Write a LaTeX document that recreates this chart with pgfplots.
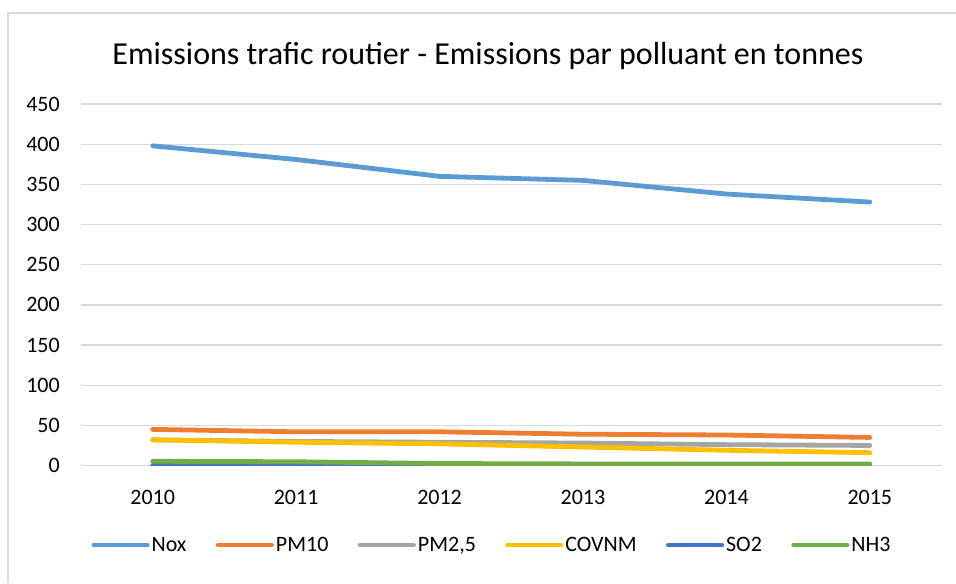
\documentclass[border=0pt]{standalone}
\usepackage{pgfplots}
\pgfplotsset{compat=1.18}
\usepackage{fontspec}
\setmainfont{Carlito}
\definecolor{cNox}{HTML}{5B9BD5}
\definecolor{cPMten}{HTML}{ED7D31}
\definecolor{cPMtwo}{HTML}{A5A5A5}
\definecolor{cCOV}{HTML}{FFC000}
\definecolor{cSO}{HTML}{4472C4}
\definecolor{cNH}{HTML}{70AD47}
\definecolor{gridc}{HTML}{D9D9D9}
\begin{document}
\begin{tikzpicture}
\path[use as bounding box] (0,0) rectangle (717pt,437.25pt);
\draw[gridc, line width=1.1pt] (6pt,0) -- (6pt,427.5pt) -- (717pt,427.5pt);
\node[font=\fontsize{24}{28}\selectfont, anchor=center] at (366pt,395pt) {Emissions trafic routier - Emissions par polluant en tonnes};
\begin{axis}[
  at={(60.75pt,88.1pt)}, anchor=south west,
  scale only axis, width=645.4pt, height=271.1pt,
  xmin=-0.5, xmax=5.5, ymin=0, ymax=450,
  xtick={0,1,2,3,4,5},
  xticklabels={2010,2011,2012,2013,2014,2015},
  ytick={0,50,...,450},
  /pgf/number format/assume math mode=true,
  major tick length=0pt,
  axis line style={draw=none},
  xmajorgrids=false,
  ymajorgrids=true, 
  major grid style={draw=gridc, line width=1pt},
  tick label style={font=\fontsize{16.5}{19}\selectfont, inner sep=0pt},
  yticklabel style={anchor=east, xshift=-15.75pt},
  xticklabel style={anchor=center, yshift=-23.6pt},
  every axis plot/.append style={line width=3.6pt, line cap=round, line join=round},
  legend columns=6,
  legend style={draw=none, fill=none, at={(axis description cs:0.4776,-0.22)}, anchor=center,
    font=\fontsize{16.5}{19}\selectfont,
    nodes={inner sep=1.5pt},
    /tikz/every even column/.append style={column sep=20.5pt}},
  legend image code/.code={\draw[#1, line width=3.6pt, line cap=round] (0pt,0pt) -- (40pt,0pt);},
]
\addplot[cNox] coordinates {(0,398) (1,381) (2,360) (3,355) (4,338) (5,328)};
\addlegendentry{Nox}
\addplot[cPMten] coordinates {(0,45) (1,42) (2,42) (3,39) (4,38) (5,35)};
\addlegendentry{PM10}
\addplot[cPMtwo] coordinates {(0,32) (1,30) (2,29) (3,28) (4,26) (5,25)};
\addlegendentry{PM2,5}
\addplot[cCOV] coordinates {(0,32) (1,29) (2,27) (3,23) (4,19) (5,16)};
\addlegendentry{COVNM}
\addplot[cSO] coordinates {(0,0.2) (1,0.2) (2,0.2) (3,0.2) (4,0.2) (5,0.2)};
\addlegendentry{SO2}
\addplot[cNH] coordinates {(0,5.3) (1,4.7) (2,2.5) (3,2) (4,2) (5,2)};
\addlegendentry{NH3}
\end{axis}
\end{tikzpicture}
\end{document}
